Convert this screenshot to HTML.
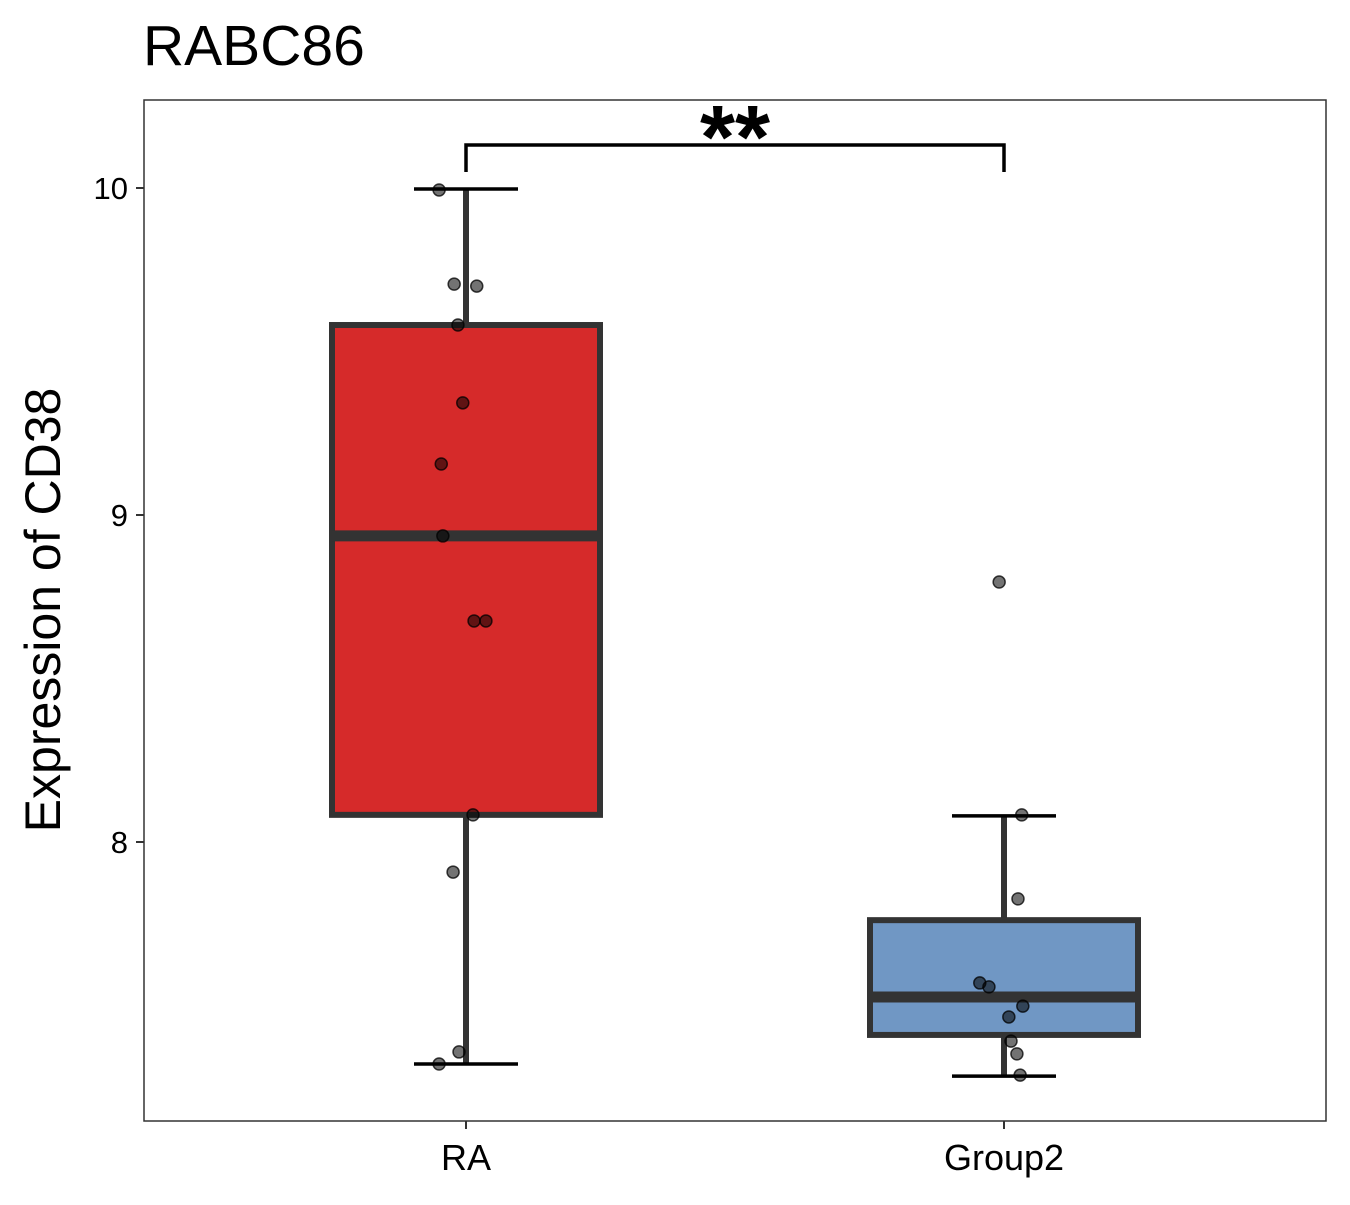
<!DOCTYPE html>
<html><head><meta charset="utf-8"><style>
body{margin:0;background:#fff;}
svg text{font-family:"Liberation Sans",Arial,sans-serif;}
</style></head><body>
<svg id="chart" width="1350" height="1200" xmlns="http://www.w3.org/2000/svg">
<rect width="1350" height="1200" fill="#fff"/>
<text x="143" y="65" font-size="57" fill="#000">RABC86</text>
<rect x="144" y="100" width="1182" height="1021" fill="#fff" stroke="#333" stroke-width="1.5"/>
<g id="yaxis"></g>
<g id="xaxis"></g>
<g id="boxes"></g>
<g id="points"></g>
<g>
<path d="M466,172 V145 H1004 V172" fill="none" stroke="#000" stroke-width="3.5"/>
<text x="735" y="168" font-size="90" font-weight="bold" text-anchor="middle">**</text>
</g>
<text transform="translate(60,610) rotate(-90)" font-size="50" text-anchor="middle">Expression of CD38</text>
</svg>
<script>
const categories = ["RA", "Group2"];
const fills = ["#D62A2A", "#7097C4"];
const q1 = [8.083, 7.41];
const median = [8.936, 7.526];
const q3 = [9.581, 7.761];
const whiskerLow = [7.321, 7.284];
const whiskerHigh = [9.997, 8.08];
const yTicks = [8, 9, 10];
const raValues = [9.994, 9.706, 9.70, 9.581, 9.343, 9.156, 8.936, 8.676, 8.676, 8.083, 7.908, 7.358, 7.321];
const raJitter = [-0.05, -0.022, 0.02, -0.015, -0.006, -0.046, -0.043, 0.015, 0.037, 0.013, -0.024, -0.013, -0.05];
const g2Values = [8.795, 8.083, 7.826, 7.569, 7.557, 7.498, 7.465, 7.391, 7.352, 7.287];
const g2Jitter = [-0.009, 0.033, 0.026, -0.045, -0.028, 0.035, 0.009, 0.013, 0.024, 0.03];

const NS = "http://www.w3.org/2000/svg";
function y(v){ return 188 + (10 - v) * 327; }
function x(i){ return 466 + i * 538; }
const BAND = 538;
function mk(parent, tag, attrs){
  const e = document.createElementNS(NS, tag);
  for (const k in attrs) e.setAttribute(k, attrs[k]);
  parent.appendChild(e); return e;
}
const ya = document.getElementById("yaxis");
yTicks.forEach(t => {
  const l = mk(ya, "line", {x1:136, x2:144, y1:y(t), y2:y(t), stroke:"#333", "stroke-width":2});
  
  
  const tx = mk(ya, "text", {x:128, y:y(t)+11, "font-size":31, "text-anchor":"end", fill:"#000"});
  tx.textContent = t;
  
  
});
const xa = document.getElementById("xaxis");
categories.forEach((c, i) => {
  const l = mk(xa, "line", {x1:x(i), x2:x(i), y1:1121, y2:1129, stroke:"#333", "stroke-width":2});
  
  
  const tx = mk(xa, "text", {x:x(i), y:1170, "font-size":36, "text-anchor":"middle", fill:"#000"});
  tx.textContent = c;
  
  
});
const bx = document.getElementById("boxes");
categories.forEach((c, i) => {
  const cx = x(i), hw = 134, cw = 52;
  const w = mk(bx, "line", {x1:cx, x2:cx, y1:y(whiskerHigh[i]), y2:y(whiskerLow[i]), stroke:"#333", "stroke-width":6});
  
  
  [whiskerHigh[i], whiskerLow[i]].forEach(v => {
    const cap = mk(bx, "line", {x1:cx-cw, x2:cx+cw, y1:y(v), y2:y(v), stroke:"#000", "stroke-width":3.5});
    
    
  });
  const r = mk(bx, "rect", {x:cx-hw, y:y(q3[i]), width:2*hw, height:y(q1[i])-y(q3[i]), fill:fills[i], stroke:"#333", "stroke-width":6});
  
  
  const m = mk(bx, "line", {x1:cx-hw, x2:cx+hw, y1:y(median[i]), y2:y(median[i]), stroke:"#333", "stroke-width":11});
  
  
});
const pg = document.getElementById("points");
[[raValues, raJitter], [g2Values, g2Jitter]].forEach(([vals, jit], i) => {
  vals.forEach((v, k) => {
    const p = mk(pg, "circle", {cx:x(i) + jit[k]*BAND, cy:y(v), r:6, fill:"rgba(0,0,0,0.55)", stroke:"rgba(0,0,0,0.75)", "stroke-width":1.5});
    
    
  });
});
</script>
</body></html>
